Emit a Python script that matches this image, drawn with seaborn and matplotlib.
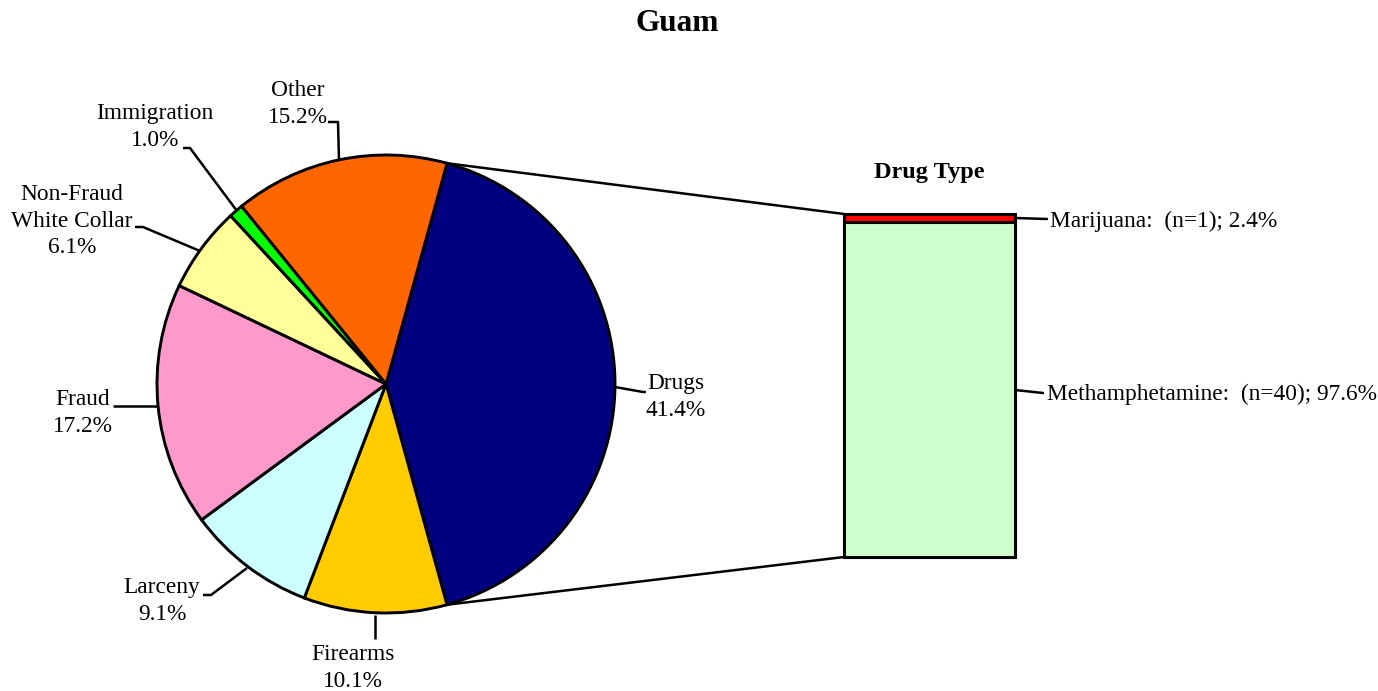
import matplotlib
matplotlib.use("Agg")
import matplotlib.pyplot as plt
from matplotlib.patches import ConnectionPatch
import seaborn as sns
import numpy as np

# 데이터 (Guam, offense type counts)
offenses = ["Drugs", "Firearms", "Larceny", "Fraud", "Non-Fraud\nWhite Collar", "Immigration", "Other"]
offense_counts = [41, 10, 9, 17, 6, 1, 15]
offense_colors = ["#000080", "#FFCC00", "#CCFFFF", "#FF99CC", "#FFFF99", "#00FF00", "#FF6600"]

drugs = ["Methamphetamine", "Marijuana"]
drug_counts = [40, 1]
drug_colors = ["#CCFFCC", "#FF0000"]

# layout (pixel coords, measured from top-left)
W, H = 1378, 691
pie_center = (386, 384)
pie_radius = 229
label_pos = [(676, 397), (353, 668), (162, 601), (83, 413), (72, 221), (155, 127), (298, 104)]
leaders = [
    [(615, 387), (643, 392), (646, 392)],
    [(375, 615), (375, 639)],
    [(247, 568), (211, 595), (203, 595)],
    [(157, 406), (113, 406)],
    [(200, 251), (143, 227), (135, 227)],
    [(237, 211), (190, 148), (183, 148)],
    [(339, 160), (338, 122), (328, 122)],
]
bar_box = (844, 214, 1015, 557)

sns.set_theme(style="white")
plt.rcParams["font.family"] = ["Liberation Serif", "DejaVu Serif"]
plt.rcParams["text.color"] = "black"

fig = plt.figure(figsize=(W / 100, H / 100), dpi=100)
ax = fig.add_axes([0, 0, 1, 1])

total = sum(offense_counts)
start = 180 * offense_counts[0] / total
wedges, _ = ax.pie(
    offense_counts,
    colors=offense_colors,
    startangle=start,
    counterclock=False,
    center=(pie_center[0], H - pie_center[1]),
    radius=pie_radius,
    wedgeprops=dict(edgecolor="black", linewidth=2.1),
)
ax.set_xlim(0, W)
ax.set_ylim(0, H)
ax.set_aspect("auto")
ax.axis("off")

# 라벨 + 리더선
for name, n, (px, py), pts in zip(offenses, offense_counts, label_pos, leaders):
    ax.text(px, H - py, f"{name}\n{100 * n / total:.1f}%", ha="center", va="center",
            fontsize=16.8, linespacing=1.33, color="black")
    xs = [p[0] for p in pts]
    ys = [H - p[1] for p in pts]
    ax.plot(xs, ys, color="black", lw=1.8, solid_capstyle="butt")

ax.text(677, H - 23, "Guam", ha="center", va="center", fontsize=22.5, fontweight="bold", color="black")

# 누적 막대 (Drug Type)
x0, y0, x1, y1 = bar_box
bx = fig.add_axes([x0 / W, (H - y1) / H, (x1 - x0) / W, (y1 - y0) / H])
drug_total = sum(drug_counts)
drug_pct = [100 * c / drug_total for c in drug_counts]
sns.barplot(x=[0], y=[sum(drug_pct)], color=drug_colors[1], saturation=1, width=1,
            edgecolor="black", linewidth=2.2, ax=bx)
sns.barplot(x=[0], y=[drug_pct[0]], color=drug_colors[0], saturation=1, width=1,
            edgecolor="black", linewidth=2.2, ax=bx)
for p in bx.patches:
    p.set_clip_on(False)
bx.set_xlim(-0.5, 0.5)
bx.set_ylim(0, 100)
bx.axis("off")
bx.set_title("Drug Type", fontsize=17.5, fontweight="bold", pad=26, color="black")

# 막대 라벨
ax.text(1050, H - 221, f"{drugs[1]}:  (n={drug_counts[1]}); {drug_pct[1]:.1f}%",
        ha="left", va="center", fontsize=16.8, color="black")
ax.plot([1015, 1047], [H - 218, H - 219], color="black", lw=1.8)
ax.text(1047, H - 394, f"{drugs[0]}:  (n={drug_counts[0]}); {drug_pct[0]:.1f}%",
        ha="left", va="center", fontsize=16.8, color="black")
ax.plot([1015, 1043], [H - 390, H - 393], color="black", lw=1.8)

# 파이 -> 막대 연결선
w = wedges[0]
cx, cy = w.center
for ang, yb in [(w.theta2, 100), (w.theta1, 0)]:
    pt = (cx + w.r * np.cos(np.radians(ang)), cy + w.r * np.sin(np.radians(ang)))
    con = ConnectionPatch(xyA=pt, coordsA=ax.transData, xyB=(-0.5, yb), coordsB=bx.transData,
                          color="black", lw=1.8)
    fig.add_artist(con)

fig.savefig("out.png", dpi=100)
